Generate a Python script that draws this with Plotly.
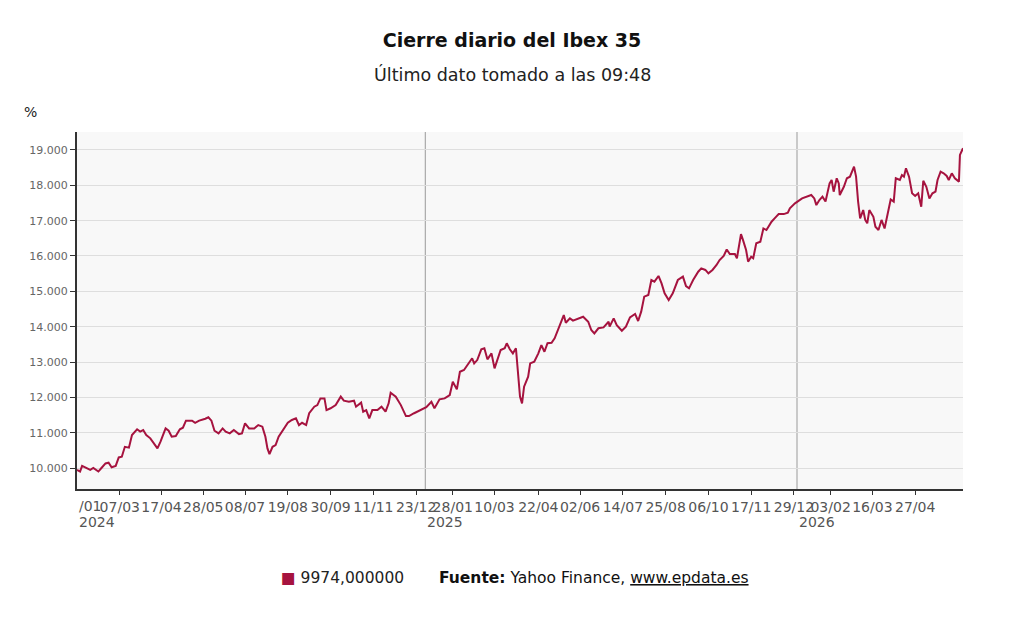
import plotly.graph_objects as go

# ---- data ----
dates = [
    "2024-01-25", "2024-01-28", "2024-01-30", "2024-02-04", "2024-02-07", "2024-02-10", "2024-02-15",
    "2024-02-18", "2024-02-22", "2024-02-25", "2024-02-28", "2024-03-03", "2024-03-06", "2024-03-09",
    "2024-03-12", "2024-03-16", "2024-03-19", "2024-03-24", "2024-03-27", "2024-03-30", "2024-04-02",
    "2024-04-06", "2024-04-09", "2024-04-13", "2024-04-16", "2024-04-19", "2024-04-21", "2024-04-24",
    "2024-04-27", "2024-05-01", "2024-05-05", "2024-05-08", "2024-05-11", "2024-05-17", "2024-05-20",
    "2024-05-24", "2024-05-27", "2024-05-30", "2024-06-02", "2024-06-05", "2024-06-08", "2024-06-12",
    "2024-06-16", "2024-06-19", "2024-06-23", "2024-06-27", "2024-07-02", "2024-07-05", "2024-07-08",
    "2024-07-12", "2024-07-17", "2024-07-21", "2024-07-25", "2024-07-28", "2024-07-30", "2024-08-01",
    "2024-08-04", "2024-08-07", "2024-08-10", "2024-08-14", "2024-08-19", "2024-08-23", "2024-08-27",
    "2024-08-30", "2024-09-02", "2024-09-06", "2024-09-09", "2024-09-14", "2024-09-17", "2024-09-20",
    "2024-09-24", "2024-09-26", "2024-09-30", "2024-10-05", "2024-10-10", "2024-10-13", "2024-10-18",
    "2024-10-23", "2024-10-25", "2024-10-30", "2024-11-01", "2024-11-04", "2024-11-07", "2024-11-10",
    "2024-11-15", "2024-11-19", "2024-11-23", "2024-11-26", "2024-11-28", "2024-12-03", "2024-12-08",
    "2024-12-13", "2024-12-16", "2024-12-21", "2024-12-26",
    "2025-01-02", "2025-01-07", "2025-01-10", "2025-01-15", "2025-01-20", "2025-01-25", "2025-01-28",
    "2025-02-01", "2025-02-04", "2025-02-08", "2025-02-12", "2025-02-16", "2025-02-18", "2025-02-21",
    "2025-02-25", "2025-02-28", "2025-03-03", "2025-03-07", "2025-03-10", "2025-03-13", "2025-03-16",
    "2025-03-20", "2025-03-22", "2025-03-25", "2025-03-28", "2025-03-31", "2025-04-02", "2025-04-04",
    "2025-04-06", "2025-04-08", "2025-04-12", "2025-04-14", "2025-04-18", "2025-04-22", "2025-04-25",
    "2025-04-28", "2025-05-01", "2025-05-05", "2025-05-08", "2025-05-13", "2025-05-17", "2025-05-19",
    "2025-05-23", "2025-05-26", "2025-05-31", "2025-06-05", "2025-06-10", "2025-06-13", "2025-06-16",
    "2025-06-20", "2025-06-25", "2025-06-30", "2025-07-01", "2025-07-05", "2025-07-08", "2025-07-13",
    "2025-07-17", "2025-07-21", "2025-07-26", "2025-07-29", "2025-08-01", "2025-08-04", "2025-08-08",
    "2025-08-11", "2025-08-14", "2025-08-18", "2025-08-21", "2025-08-24", "2025-08-28", "2025-09-01",
    "2025-09-06", "2025-09-11", "2025-09-14", "2025-09-17", "2025-09-21", "2025-09-26", "2025-09-29",
    "2025-10-03", "2025-10-06", "2025-10-10", "2025-10-14", "2025-10-17", "2025-10-21", "2025-10-24",
    "2025-10-27", "2025-11-01", "2025-11-03", "2025-11-05", "2025-11-07", "2025-11-09", "2025-11-12",
    "2025-11-14", "2025-11-17", "2025-11-19", "2025-11-22", "2025-11-26", "2025-11-29", "2025-12-02",
    "2025-12-07", "2025-12-10", "2025-12-14", "2025-12-19", "2025-12-23", "2025-12-25", "2025-12-30",
    "2026-01-06", "2026-01-11", "2026-01-15", "2026-01-18", "2026-01-20", "2026-01-23", "2026-01-26",
    "2026-01-29", "2026-02-02", "2026-02-04", "2026-02-06", "2026-02-09", "2026-02-11", "2026-02-12",
    "2026-02-16", "2026-02-19", "2026-02-22", "2026-02-26", "2026-02-28", "2026-03-02", "2026-03-04",
    "2026-03-07", "2026-03-09", "2026-03-11", "2026-03-13", "2026-03-17", "2026-03-19", "2026-03-22",
    "2026-03-25", "2026-03-28", "2026-03-31", "2026-04-03", "2026-04-06", "2026-04-08", "2026-04-12",
    "2026-04-14", "2026-04-16", "2026-04-18", "2026-04-21", "2026-04-24", "2026-04-27", "2026-04-30",
    "2026-05-03", "2026-05-05", "2026-05-08", "2026-05-11", "2026-05-14", "2026-05-17", "2026-05-19",
    "2026-05-22", "2026-05-25", "2026-05-28", "2026-05-30", "2026-06-02", "2026-06-05", "2026-06-09",
    "2026-06-10", "2026-06-13",
]
closes = [
    9945, 9900, 10060, 10000, 9945, 10000, 9900,
    10000, 10130, 10150, 10020, 10060, 10300, 10320,
    10600, 10575, 10935, 11095, 11030, 11075, 10935,
    10840, 10715, 10555, 10745, 10980, 11120, 11055,
    10885, 10905, 11095, 11140, 11340, 11340, 11280,
    11340, 11360, 11395, 11435, 11340, 11055, 10980,
    11120, 11030, 10980, 11075, 10960, 10980, 11265,
    11120, 11120, 11215, 11170, 10885, 10555, 10395,
    10600, 10650, 10885, 11075, 11280, 11360, 11405,
    11215, 11280, 11215, 11550, 11735, 11780, 11970,
    11970, 11640, 11690, 11780, 12020, 11905, 11875,
    11905, 11735, 11850, 11595, 11640, 11405, 11640,
    11640, 11735, 11595, 11830, 12130, 12020, 11780,
    11470, 11470, 11550, 11620,
    11720, 11875, 11690, 11945, 11970, 12065, 12440,
    12225, 12725, 12775, 12960, 13105, 12960, 13055,
    13360, 13390, 13075, 13245, 12820, 13055, 13340,
    13390, 13530, 13360, 13245, 13390, 12680, 12020,
    11830, 12300, 12585, 12960, 13010, 13245, 13480,
    13290, 13530, 13545, 13670, 14045, 14330, 14110,
    14235, 14170, 14235, 14280, 14140, 13905, 13810,
    13955, 13980, 14140, 14000, 14235, 14045, 13885,
    14000, 14265, 14360, 14160, 14425, 14850, 14895,
    15320, 15275, 15435, 15225, 14945, 14755, 14945,
    15320, 15415, 15150, 15085, 15320, 15555, 15650,
    15605, 15510, 15605, 15745, 15885, 16000, 16185,
    16055, 16055, 15935, 16265, 16620, 16450, 16170,
    15840, 15980, 15935, 16360, 16405, 16780, 16735,
    16970, 17065, 17185, 17185, 17225, 17350, 17490,
    17630, 17680, 17725, 17630, 17440, 17585, 17680,
    17540, 18055, 18150, 17820, 18200, 18055, 17725,
    17960, 18200, 18245, 18530, 18245, 17540, 17065,
    17300, 17020, 16925, 17300, 17110, 16830, 16735,
    17020, 16780, 17205, 17600, 17540, 18200, 18150,
    18290, 18245, 18480, 18245, 17775, 17700, 17775,
    17395, 18130, 17960, 17630, 17775, 17825, 18150,
    18385, 18340, 18265, 18150, 18340, 18200, 18105,
    18860, 19050,
]

series_name = "9974,000000"
tick_dates = ["2024-03-07", "2024-04-17", "2024-05-28", "2024-07-08", "2024-08-19", "2024-09-30",
              "2024-11-11", "2024-12-23", "2025-01-28", "2025-03-10", "2025-04-22", "2025-06-02",
              "2025-07-14", "2025-08-25", "2025-10-06", "2025-11-17", "2025-12-29", "2026-02-03",
              "2026-03-16", "2026-04-27"]
tick_labels = ["07/03", "17/04", "28/05", "08/07", "19/08", "30/09", "11/11", "23/12",
               "28/01", "10/03", "22/04", "02/06", "14/07", "25/08", "06/10", "17/11", "29/12",
               "03/02", "16/03", "27/04"]
first_label = "/01"
year_starts = ["2025-01-01", "2026-01-01"]
year_labels = ["2024", "2025", "2026"]
y_ticks = [10000, 11000, 12000, 13000, 14000, 15000, 16000, 17000, 18000, 19000]

LINE = "#a6133f"
FONT = "DejaVu Sans"

# plot area in pixels
L, R, T, B = 77, 963, 132, 489
W, H = 1024, 620


def px(xp):
    return (xp - L) / (R - L)


def py(yp):
    return (B - yp) / (B - T)


fig = go.Figure()
fig.add_trace(go.Scatter(x=dates, y=closes, mode="lines", name=series_name,
                         line=dict(color=LINE, width=2), showlegend=False))

for ys in year_starts:
    fig.add_vline(x=ys, line=dict(color="#9a9a9a", width=1), layer="below")

fig.update_layout(
    width=W, height=H,
    margin=dict(l=L, r=W - R, t=T, b=H - B),
    paper_bgcolor="white", plot_bgcolor="#f8f8f8",
    separators=",.",
    font=dict(family=FONT, color="#333"),
    title=dict(text="<b>Cierre diario del Ibex 35</b>", x=0.5, xanchor="center",
               y=1 - 40 / H, yanchor="middle", font=dict(size=19, color="#111")),
    xaxis=dict(type="date", range=[dates[0], dates[-1]],
               tickmode="array", tickvals=tick_dates, ticktext=tick_labels, tickangle=0,
               tickfont=dict(size=14, color="#555"), ticks="outside", ticklen=4,
               tickcolor="#333", showline=True, linecolor="#333", linewidth=2,
               showgrid=False, zeroline=False),
    yaxis=dict(range=[9406, 19509], tickmode="array", tickvals=y_ticks,
               tickformat=",.0f", tickfont=dict(size=11, color="#666"),
               ticks="outside", ticklen=5, tickcolor="#333",
               showline=True, linecolor="#333", linewidth=2,
               showgrid=True, gridcolor="#dedede", gridwidth=1, zeroline=False),
)

annotations = [
    dict(text="Último dato tomado a las 09:48", x=px(512), y=py(75), xref="paper", yref="paper",
         xanchor="center", yanchor="middle", showarrow=False, font=dict(size=17.5, color="#222")),
    dict(text="%", x=px(30), y=py(112), xref="paper", yref="paper",
         xanchor="center", yanchor="middle", showarrow=False, font=dict(size=14, color="#222")),
    dict(text=first_label, x=dates[0], y=py(506), xref="x", yref="paper",
         xanchor="left", yanchor="middle", showarrow=False, font=dict(size=14, color="#555")),
    dict(text=year_labels[0], x=dates[0], y=py(522), xref="x", yref="paper",
         xanchor="left", yanchor="middle", showarrow=False, font=dict(size=14, color="#555")),
    dict(text=f'<span style="color:{LINE}">■</span> {series_name}', x=px(279), y=py(578),
         xref="paper", yref="paper", xanchor="left", yanchor="middle", showarrow=False,
         font=dict(size=15.5, color="#222")),
    dict(text='<b>Fuente:</b> Yahoo Finance, <span style="text-decoration:underline">www.epdata.es</span>',
         x=px(437), y=py(578), xref="paper", yref="paper", xanchor="left", yanchor="middle",
         showarrow=False, font=dict(size=15.5, color="#111")),
]
for ys, yl in zip(year_starts, year_labels[1:]):
    annotations.append(dict(text=yl, x=ys, y=py(522), xref="x", yref="paper",
                            xanchor="left", yanchor="middle", showarrow=False,
                            font=dict(size=14, color="#555")))
fig.update_layout(annotations=annotations)

fig.write_html("out.html")
